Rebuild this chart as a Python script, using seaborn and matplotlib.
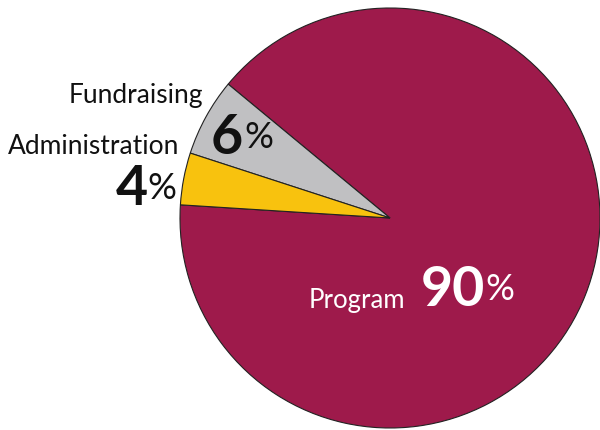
import matplotlib
matplotlib.use('Agg')
import matplotlib.pyplot as plt
import seaborn as sns

sns.set_theme(style="white")
plt.rcParams['font.family'] = ['Lato', 'DejaVu Sans']

# data
categories = ['Program', 'Fundraising', 'Administration']
shares     = [90, 6, 4]
colors     = ['#9E1A4B', '#C0C0C2', '#F8C20E']

fig = plt.figure(figsize=(6, 4.3), dpi=100)
ax = fig.add_axes([0, 0, 1, 1])

# pie in pixel-like coords (y up)
ax.pie(shares, colors=colors, startangle=176.4, counterclock=True,
       center=(390, 212), radius=210,
       wedgeprops=dict(edgecolor='#222222', linewidth=0.8))
ax.set_xlim(0, 600)
ax.set_ylim(0, 430)
ax.set_aspect('equal')
ax.axis('off')


def pct_label(x, y, value, color, gap=0):
    num = ax.text(x, y, str(value), fontsize=40, fontweight='bold',
                  color=color, ha='left', va='baseline')
    ax.annotate('%', xy=(1, y), xycoords=(num, 'data'), xytext=(gap, 4.5),
                textcoords='offset points', fontsize=26, color=color,
                ha='left', va='baseline')
    return num


# Fundraising
ax.text(203, 430 - 103, categories[1], fontsize=19, ha='right',
        va='baseline', color='#111111')
pct_label(211, 430 - 154, shares[1], '#111111', gap=0.5)

# Administration
ax.text(179, 430 - 154, categories[2], fontsize=19, ha='right',
        va='baseline', color='#111111')
pct_label(116, 430 - 205, shares[2], '#111111', gap=-0.5)

# Program
ax.text(309, 430 - 308, categories[0], fontsize=18.5, ha='left',
        va='baseline', color='white')
pct_label(421, 430 - 306, shares[0], 'white', gap=0)

fig.savefig('out.png', dpi=100)
